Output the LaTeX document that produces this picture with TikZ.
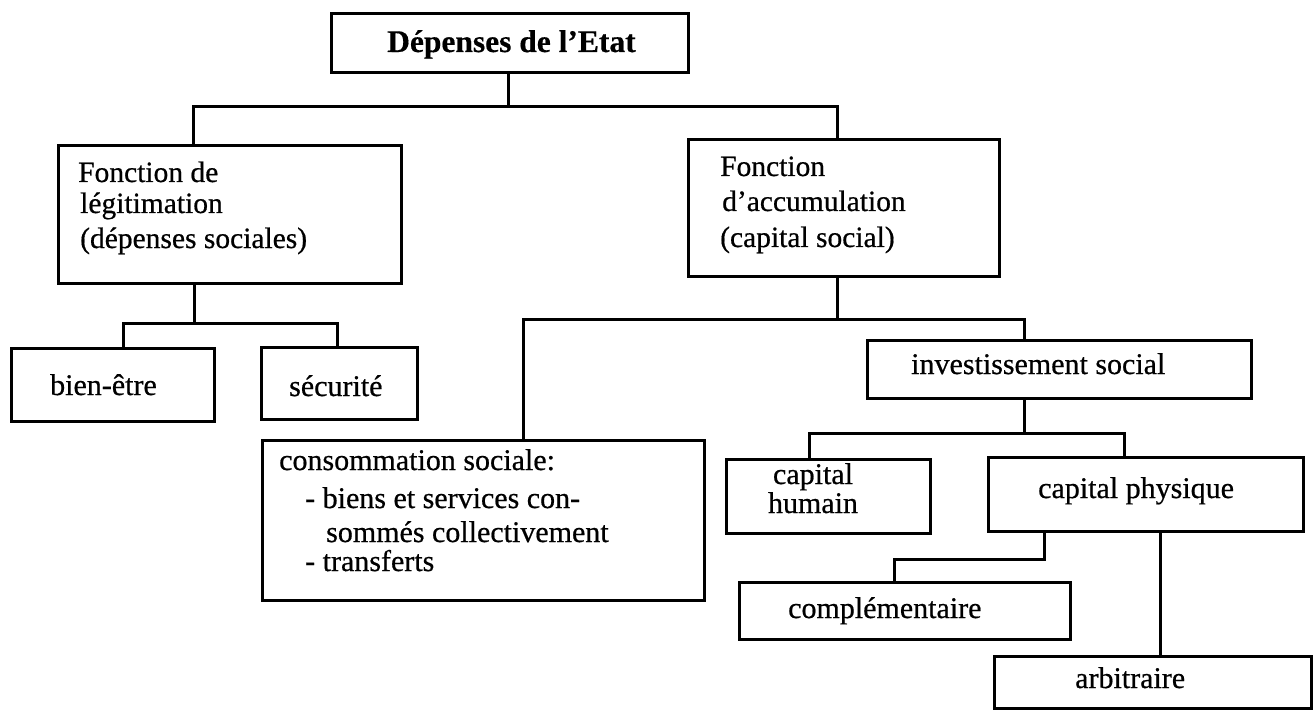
\documentclass[tikz,border=0pt]{standalone}
\usepackage{fontspec}
\setmainfont{Liberation Serif}[FakeBold=0.6]
\newfontfamily\titlefont{Liberation Serif Bold}[FakeBold=0.4]
\usetikzlibrary{calc}
\tikzset{
  box/.style={draw, line width=3pt, rectangle, anchor=north west, inner sep=0pt, outer sep=0pt},
  conn/.style={line width=3pt},
  lbl/.style={anchor=base west, inner sep=0pt, font=\fontsize{30}{33}\selectfont},
  ulbl/.style={anchor=base west, inner sep=0pt, font=\fontsize{29.5}{33}\selectfont},
  clbl/.style={lbl, anchor=base},
  ttl/.style={anchor=base west, inner sep=0pt, font=\titlefont\fontsize{31.5}{36}\selectfont}
}
\begin{document}
\begin{tikzpicture}[x=1pt,y=-1pt]
\useasboundingbox (0,0) rectangle (1313,711);
% boxes
\node[box, minimum width=357pt, minimum height=59pt]  (top)    at (331,14)  {};
\node[box, minimum width=343pt, minimum height=137pt] (legit)  at (58,146)  {};
\node[box, minimum width=311pt, minimum height=136pt] (accum)  at (688,140) {};
\node[box, minimum width=203pt, minimum height=73pt]  (bien)   at (11,348)  {};
\node[box, minimum width=156pt, minimum height=72pt]  (secu)   at (261,347) {};
\node[box, minimum width=442pt, minimum height=160pt] (conso)  at (262,440) {};
\node[box, minimum width=384pt, minimum height=58pt]  (invest) at (867,340) {};
\node[box, minimum width=204pt, minimum height=74pt]  (humain) at (726,459) {};
\node[box, minimum width=315pt, minimum height=74pt]  (phys)   at (988,457) {};
\node[box, minimum width=331pt, minimum height=57pt]  (compl)  at (739,582) {};
\node[box, minimum width=317pt, minimum height=52pt]  (arbi)   at (994,656) {};
% texts
\node[ttl] (t0) at (387,52) {Dépenses de l’Etat};
\node[ulbl] (t1a) at (78,182) {Fonction de};
\node[ulbl] (t1b) at (80,213) {légitimation};
\node[ulbl] (t1c) at (80,248) {(dépenses sociales)};
\node[ulbl] (t2a) at (720,176) {Fonction};
\node[ulbl] (t2b) at (722,211) {d’accumulation};
\node[ulbl] (t2c) at (720,247) {(capital social)};
\node[lbl] (t3) at (50,395) {bien-être};
\node[lbl] (t4) at (289,396) {sécurité};
\node[lbl] (t5a) at (279,470) {consommation sociale:};
\node[lbl] (t5b) at (305,508) {- biens et services con-};
\node[lbl] (t5c) at (326,542) {sommés collectivement};
\node[lbl] (t5d) at (305,571) {- transferts};
\node[lbl] (t6) at (911,374) {investissement social};
\node[clbl] (t7a) at (813,484) {capital};
\node[clbl] (t7b) at (813,513) {humain};
\node[lbl] (t8) at (1038,498) {capital physique};
\node[lbl] (t9) at (788,618) {complémentaire};
\node[lbl] (t10) at (1075,688) {arbitraire};
% connectors
\coordinate (j1) at ($(top.south)+(-1.5,34)$);
\draw[conn] (top.south -| j1) -- (j1);
\draw[conn] ($(legit.north west)+(135,0)$) |- (j1) -| ($(accum.north west)+(149,0)$);
\coordinate (j2) at ($(legit.south west)+(136,40)$);
\draw[conn] ($(legit.south west)+(136,0)$) -- (j2);
\draw[conn] ($(bien.north west)+(112,0)$) |- (j2) -| ($(secu.north west)+(76,0)$);
\coordinate (j3) at ($(accum.south west)+(149,43)$);
\draw[conn] ($(accum.south west)+(149,0)$) -- (j3);
\draw[conn] ($(conso.north west)+(261,0)$) |- (j3) -| ($(invest.north west)+(157,0)$);
\coordinate (j4) at ($(invest.south west)+(157,35)$);
\draw[conn] ($(invest.south west)+(157,0)$) -- (j4);
\draw[conn] ($(humain.north west)+(83,0)$) |- (j4) -| ($(phys.north west)+(136,0)$);
\draw[conn] ($(phys.south west)+(56,0)$) |- ($(compl.north west)+(155,-23)$) -- ($(compl.north west)+(155,0)$);
\draw[conn] ($(phys.south west)+(172,0)$) -- ($(arbi.north west)+(166,0)$);
\end{tikzpicture}
\end{document}
